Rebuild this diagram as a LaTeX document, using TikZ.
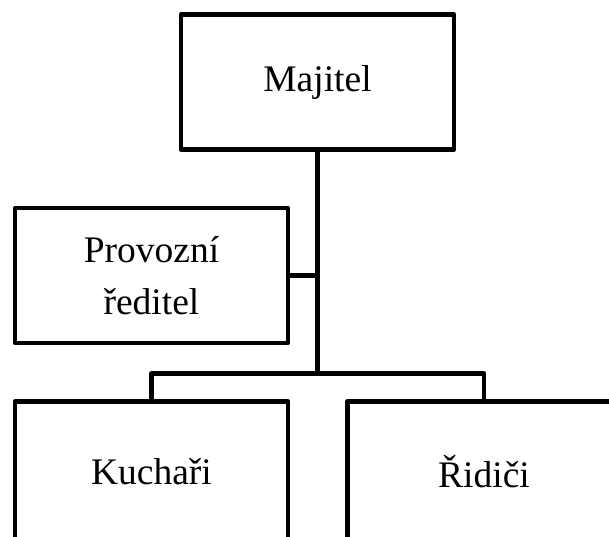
\documentclass[tikz,border=0pt]{standalone}
\usepackage{fontspec}
\setmainfont{Liberation Serif}
\usetikzlibrary{positioning}
\begin{document}
\begin{tikzpicture}[x=1pt,y=-1pt,line join=round,line cap=round,
	font=\fontsize{37.5}{51.5}\selectfont,
	orgbox/.style={draw,line width=4.5pt,minimum width=273pt,minimum height=135pt,inner sep=0pt,align=center},
	orgline/.style={line width=4.5pt}]
	\path[use as bounding box,clip] (0,0) rectangle (609,536);
	\node[orgbox] (majitel) at (317.5,82) {Majitel};
	\node[orgbox] (provozni) at (151.5,275.5) {Provozní\\ředitel};
	% bottom row runs off the page
	\node[orgbox,minimum height=141pt] (kuchari) at (151.5,472) {Kuchaři};
	\node[orgbox,minimum height=141pt] (ridici) at (484,472) {Řidiči};
	\coordinate (bus) at (317.5,373.5);
	\draw[orgline] (majitel.south)--(bus)
	(provozni.east)--(provozni.east-|bus)
	(kuchari.north)|-(bus)-|(ridici.north)
	;
\end{tikzpicture}
\end{document}
